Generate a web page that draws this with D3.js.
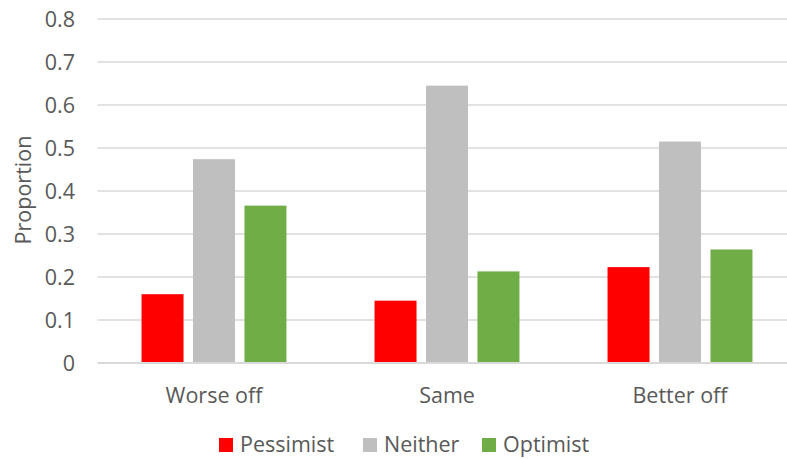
<!DOCTYPE html>
<html lang="en">
<head>
    <meta charset="UTF-8">
    <title>Proportion by outcome</title>
    <style>
        body { margin: 0; background: #fff; }
        svg text { font-family: "Open Sans", Lato, sans-serif; fill: #595959; }
    </style>
</head>
<body>
<script src="https://cdn.jsdelivr.net/npm/d3@7"></script>
<script>
    var categories = ["Worse off", "Same", "Better off"];
    var series = ["Pessimist", "Neither", "Optimist"];
    var pessimist = [0.160, 0.145, 0.223];
    var neither = [0.474, 0.645, 0.515];
    var optimist = [0.366, 0.213, 0.264];
    var yTicks = [0, 0.1, 0.2, 0.3, 0.4, 0.5, 0.6, 0.7, 0.8];
    var colors = ["#ff0000", "#bfbfbf", "#70ad47"];

    var values = [pessimist, neither, optimist];
    var width = 787, height = 459;
    var fontSize = 21.5;

    var svg = d3.select("body").append("svg")
        .attr("width", width)
        .attr("height", height);

    // scales
    var x0 = d3.scaleBand()
        .domain(categories)
        .range([97.5, 796.5])
        .paddingInner(0.378)
        .paddingOuter(0.189);

    var x1 = d3.scaleBand()
        .domain(series)
        .range([0, x0.bandwidth()])
        .paddingInner(0.184);

    var y = d3.scaleLinear()
        .domain([0, 0.8])
        .range([363, 19]);

    var color = d3.scaleOrdinal().domain(series).range(colors);

    // gridlines
    svg.append("g")
        .selectAll("line")
        .data(yTicks.slice(1))
        .enter()
        .append("line")
        .attr("x1", 97.5)
        .attr("x2", width)
        .attr("y1", function(d){ return y(d); })
        .attr("y2", function(d){ return y(d); })
        .attr("stroke", "#d9d9d9")
        .attr("stroke-width", 1.5);

    // y axis labels
    var yAxis = d3.axisLeft(y).tickValues(yTicks)
        .tickFormat(function(d){ return d === 0 ? "0" : d3.format(".1f")(d); })
        .tickSize(0).tickPadding(0);
    var gy = svg.append("g")
        .attr("transform", "translate(75,0)")
        .call(yAxis);
    gy.select(".domain").remove();
    gy.selectAll("text")
        .attr("font-size", fontSize)
        .attr("font-family", null)
        .attr("fill", null)
        .attr("dy", "0.35em");

    // bars
    var groups = svg.append("g")
        .selectAll("g")
        .data(categories)
        .enter()
        .append("g")
        .attr("transform", function(d){ return "translate(" + x0(d) + ",0)"; });

    groups.selectAll("rect")
        .data(function(c, ci){
            return series.map(function(s, si){ return {s: s, v: values[si][ci]}; });
        })
        .enter()
        .append("rect")
        .attr("x", function(d){ return x1(d.s); })
        .attr("width", x1.bandwidth())
        .attr("y", function(d){ return y(d.v); })
        .attr("height", function(d){ return y(0) - y(d.v); })
        .attr("fill", function(d){ return color(d.s); });

    // x axis
    var xAxis = d3.axisBottom(x0).tickSize(0).tickPadding(0);
    var gx = svg.append("g")
        .attr("transform", "translate(0," + y(0) + ")")
        .call(xAxis);
    gx.select(".domain").remove();
    gx.selectAll("text")
        .attr("font-size", fontSize)
        .attr("font-family", null)
        .attr("fill", null)
        .attr("y", 40)
        .attr("dy", 0);
    svg.append("line")
        .attr("x1", 97.5).attr("x2", width)
        .attr("y1", y(0)).attr("y2", y(0))
        .attr("stroke", "#d9d9d9")
        .attr("stroke-width", 2);

    // y axis title
    svg.append("text")
        .attr("transform", "translate(31,190) rotate(-90)")
        .attr("text-anchor", "middle")
        .attr("font-size", fontSize)
        .text("Proportion");

    // legend
    var legendX = [219, 363, 482];
    var legend = svg.append("g")
        .selectAll("g")
        .data(series)
        .enter()
        .append("g")
        .attr("transform", function(d, i){ return "translate(" + legendX[i] + ",438)"; });
    legend.append("rect")
        .attr("width", 14).attr("height", 14)
        .attr("fill", function(d){ return color(d); });
    legend.append("text")
        .attr("x", 21).attr("y", 14)
        .attr("font-size", fontSize)
        .text(function(d){ return d; });
</script>
</body>
</html>
